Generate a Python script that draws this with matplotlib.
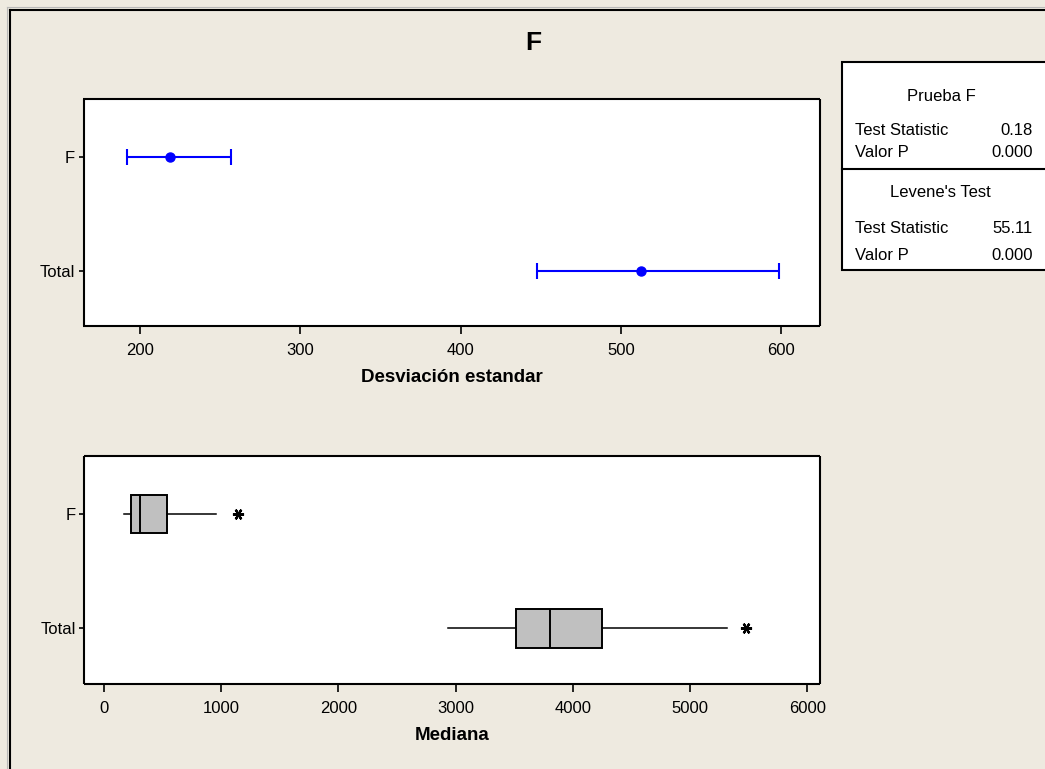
import matplotlib
matplotlib.use("Agg")
import matplotlib.pyplot as plt
from matplotlib.lines import Line2D
from matplotlib.patches import Rectangle

plt.rcParams['font.family'] = ['Liberation Sans', 'DejaVu Sans']

# data
categories = ['F', 'Total']
sd_est = [219, 512.5]
sd_lo = [192, 447.5]
sd_hi = [257, 598.7]

whislo = [168, 2938]
q1 = [233, 3515]
med = [310, 3808]
q3 = [535, 4248]
whishi = [953, 5318]
outliers = [[1141], [5478]]

table_rows = [("Test Statistic", "0.18"), ("Valor P", "0.000"),
              ("Test Statistic", "55.11"), ("Valor P", "0.000")]

W, H = 1045, 769
BG = '#EEEAE0'


def fx(px):
    return px / W


def fy(py):
    return 1 - py / H


def axes_box(left, top, right, bottom):
    return [fx(left), fy(bottom), (right - left) / W, (bottom - top) / H]


fig = plt.figure(figsize=(W / 100, H / 100), dpi=100, facecolor=BG)

# outer frame
for x, c, lw in [(7, '#B8B8B8', 0.8), (9.5, 'black', 1.5)]:
    fig.add_artist(Line2D([fx(x), fx(x)], [0, fy(x)], color=c, lw=lw,
                          transform=fig.transFigure))
    fig.add_artist(Line2D([fx(x), 1], [fy(x), fy(x)], color=c, lw=lw,
                          transform=fig.transFigure))

fig.text(fx(533), fy(43), 'F', fontsize=19, fontweight='bold',
         ha='center', va='center')

pos = list(range(len(categories)))


def style(ax):
    ax.set_facecolor('white')
    for s in ax.spines.values():
        s.set_linewidth(1.5)
        s.set_capstyle('butt')
    ax.tick_params(axis='x', length=5.8, width=1.2, labelsize=12, pad=6.5)
    ax.tick_params(axis='y', length=3.6, width=1.2, labelsize=12, pad=2.5)


# top: confidence intervals for standard deviation
ax1 = fig.add_axes(axes_box(83.5, 99, 820, 326))
style(ax1)
xerr = [[e - l for e, l in zip(sd_est, sd_lo)],
        [h - e for e, h in zip(sd_est, sd_hi)]]
ax1.errorbar(sd_est, pos, xerr=xerr, fmt='o', color='blue', ms=6.5,
             lw=1.5, capsize=5.5, capthick=1.5)
ax1.set_xlim(165, 624)
ax1.set_xticks([200, 300, 400, 500, 600])
ax1.set_ylim(1.487, -0.506)
ax1.set_yticks(pos)
ax1.set_yticklabels(categories)
ax1.set_xlabel('Desviación estandar', fontsize=13.5, fontweight='bold',
               labelpad=7.5)

# bottom: boxplots
ax2 = fig.add_axes(axes_box(84, 456, 819.5, 684))
style(ax2)
stats = []
for i in pos:
    stats.append(dict(whislo=whislo[i], q1=q1[i], med=med[i], q3=q3[i],
                      whishi=whishi[i], fliers=outliers[i]))
ax2.bxp(stats, positions=pos, orientation='horizontal', widths=0.337,
        patch_artist=True, showcaps=False,
        boxprops=dict(facecolor='#C0C0C0', edgecolor='black', lw=1.4),
        medianprops=dict(color='black', lw=1.4),
        whiskerprops=dict(color='black', lw=1.1),
        flierprops=dict(marker=(6, 2, 90), markersize=8,
                        markeredgewidth=1.6, markeredgecolor='black'))
ax2.set_xlim(-171, 6105)
ax2.set_xticks([0, 1000, 2000, 3000, 4000, 5000, 6000])
ax2.set_ylim(1.487, -0.506)
ax2.set_yticks(pos)
ax2.set_yticklabels(categories)
ax2.set_xlabel('Mediana', fontsize=13.5, fontweight='bold', labelpad=7.5)

# test results box
fig.add_artist(Rectangle((fx(841.7), fy(270)), fx(1060 - 841.7),
                         (270 - 62.3) / H, facecolor='white',
                         edgecolor='black', lw=1.5,
                         transform=fig.transFigure))
fig.add_artist(Line2D([fx(841.7), 1], [fy(168.7), fy(168.7)], color='black',
                      lw=1.5, transform=fig.transFigure))
fig.text(fx(941.7), fy(100.7), 'Prueba F', fontsize=12, ha='center',
         va='baseline')
fig.text(fx(940), fy(196.7), "Levene's Test", fontsize=12, ha='center',
         va='baseline')
for (name, val), yb in zip(table_rows, [135, 156.7, 233.3, 260]):
    fig.text(fx(855), fy(yb), name, fontsize=12, ha='left', va='baseline')
    fig.text(fx(1032.7), fy(yb), val, fontsize=12, ha='right',
             va='baseline')

fig.savefig('out.png', dpi=100, facecolor=BG)
